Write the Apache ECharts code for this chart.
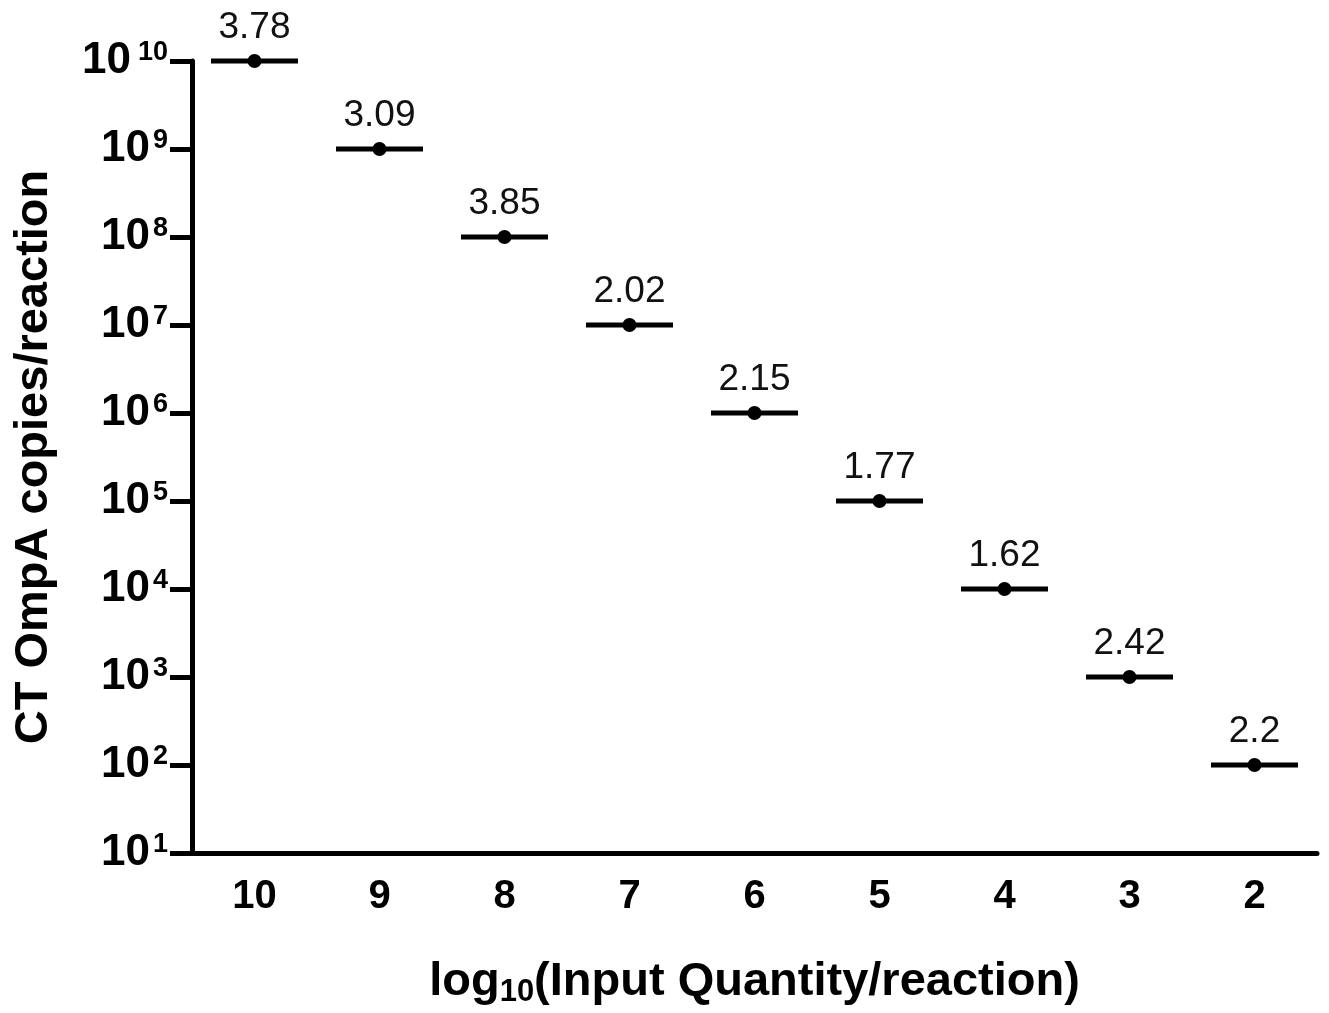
<!DOCTYPE html>
<html>
<head>
    <meta charset="utf-8">
    <script src="https://cdn.jsdelivr.net/npm/echarts@6/dist/echarts.min.js"></script>
    <style>
        html, body { margin: 0; padding: 0; background: #fff; }
        #chart { width: 1329px; height: 1013px; }
    </style>
</head>
<body>
<div id="chart"></div>
<script type="text/javascript">
    // input quantity (log10) categories, left to right
    var categories = ['10', '9', '8', '7', '6', '5', '4', '3', '2'];
    // measured CT OmpA copies per reaction
    var copies = [1e10, 1e9, 1e8, 1e7, 1e6, 1e5, 1e4, 1e3, 1e2];
    // numbers printed above each mean bar
    var cvLabels = ['3.78', '3.09', '3.85', '2.02', '2.15', '1.77', '1.62', '2.42', '2.2'];

    var FONT = 'Liberation Sans, Arial, Helvetica, sans-serif';
    var chart = echarts.init(document.getElementById('chart'));

    var option = {
        animation: false,
        backgroundColor: '#fff',
        grid: {
            left: 192,
            right: 12,
            top: 61,
            bottom: 160,
            containLabel: false,
            outerBoundsMode: 'none'
        },
        xAxis: {
            type: 'category',
            data: categories,
            boundaryGap: true,
            name: '{a|log}{s|10}{a|(Input Quantity/reaction)}',
            nameLocation: 'middle',
            nameGap: 103,
            nameTextStyle: {
                rich: {
                    a: {fontFamily: FONT, fontWeight: 'bold', fontSize: 47, color: '#000', lineHeight: 52},
                    s: {fontFamily: FONT, fontWeight: 'bold', fontSize: 31, color: '#000', lineHeight: 6, verticalAlign: 'bottom'}
                }
            },
            axisLine: {lineStyle: {color: '#000', width: 5}},
            axisTick: {alignWithLabel: true, length: 21, lineStyle: {color: '#000', width: 5}},
            axisLabel: {
                margin: 24,
                fontFamily: FONT,
                fontWeight: 'bold',
                fontSize: 40,
                color: '#000'
            },
            splitLine: {show: false}
        },
        yAxis: {
            type: 'log',
            logBase: 10,
            min: 10,
            max: 1e10,
            interval: 1,
            name: 'CT OmpA copies/reaction',
            nameLocation: 'middle',
            nameRotate: 90,
            nameGap: 134,
            nameTextStyle: {fontFamily: FONT, fontWeight: 'bold', fontSize: 47, color: '#000'},
            axisLine: {show: true, lineStyle: {color: '#000', width: 5}},
            axisTick: {show: true, length: 22, lineStyle: {color: '#000', width: 5}},
            axisLabel: {
                margin: 24,
                formatter: function (v) {
                    var e = Math.round(Math.log10(v));
                    return '{b|10}{' + (e >= 10 ? 's2' : 's') + '|' + e + '}';
                },
                rich: {
                    b: {fontFamily: FONT, fontWeight: 'bold', fontSize: 44, color: '#000', lineHeight: 44},
                    s: {fontFamily: FONT, fontWeight: 'bold', fontSize: 27, color: '#000', lineHeight: 6, verticalAlign: 'top', padding: [0, 0, 0, 3]},
                    s2: {fontFamily: FONT, fontWeight: 'bold', fontSize: 27, color: '#000', lineHeight: 6, verticalAlign: 'top', padding: [0, 0, 0, 7]}
                }
            },
            splitLine: {show: false},
            minorTick: {show: false}
        },
        series: [
            {
                // mean bar
                type: 'scatter',
                symbol: 'rect',
                symbolSize: [87, 5],
                itemStyle: {color: '#000', opacity: 1},
                data: copies,
                label: {
                    show: true,
                    position: 'top',
                    distance: 12,
                    fontFamily: FONT,
                    fontSize: 37,
                    color: '#111',
                    formatter: function (p) { return cvLabels[p.dataIndex]; }
                },
                emphasis: {disabled: true},
                z: 2
            },
            {
                type: 'scatter',
                symbol: 'circle',
                symbolSize: 14,
                itemStyle: {color: '#000', opacity: 1},
                data: copies,
                emphasis: {disabled: true},
                z: 3
            }
        ]
    };
    chart.setOption(option);
</script>
</body>
</html>
